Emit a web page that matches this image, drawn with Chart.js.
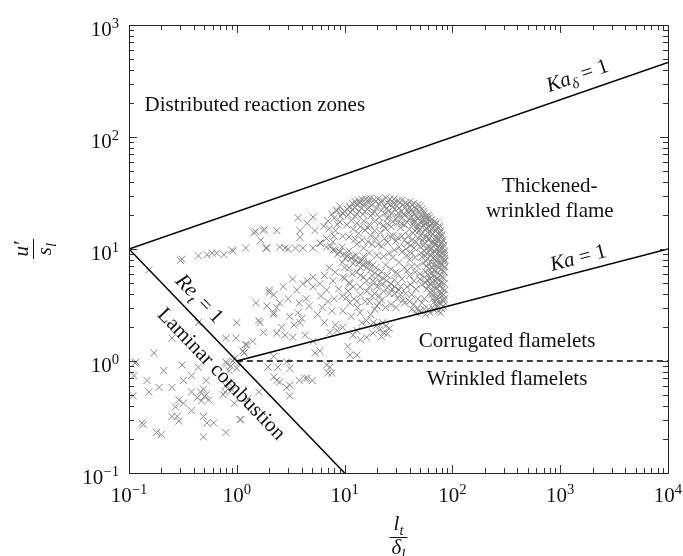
<!DOCTYPE html>
<html>
<head>
<meta charset="utf-8">
<script src="https://cdn.jsdelivr.net/npm/chart.js@4/dist/chart.umd.min.js"></script>
<style>
  body { margin: 0; background: #fff; }
  #wrap { width: 683px; height: 556px; position: relative; }
</style>
</head>
<body>
<div id="wrap"><canvas id="regime"></canvas></div>
<script>
// regime boundaries (l_t/delta_l, u'/s_l)
const kaDeltaLine = [[0.1, 10], [1e4, 464]];
const kaLine = [[1, 1], [1e4, 10]];
const reLine = [[0.1, 10], [10, 0.1]];
const wrinkledLine = [[1, 1], [1e4, 1]];

const xTickExps = [-1, 0, 1, 2, 3, 4];
const yTickExps = [-1, 0, 1, 2, 3];

const ptsLaminar = [
  [0.116,0.98],[0.111,0.74],[0.109,0.49],[0.147,0.67],[0.17,1.18],[0.21,0.82],[0.153,0.53],[0.19,0.58],
  [0.25,0.58],[0.31,0.92],[0.32,0.67],[0.38,0.74],[0.44,0.88],[0.52,0.67],[0.38,0.53],[0.46,0.53],
  [0.49,0.56],[0.43,0.47],[0.29,0.45],[0.27,0.39],[0.32,0.42],[0.38,0.36],[0.25,0.32],[0.28,0.32],
  [0.29,0.29],[0.49,0.32],[0.53,0.28],[0.61,0.28],[0.49,0.21],[0.79,0.23],[1.09,0.30],[0.132,0.28],
  [0.136,0.27],[0.18,0.23],[0.2,0.22],[0.79,0.60],[0.85,0.82],[0.79,0.98],[0.25,1.6],[0.44,2.2],
  [0.153,6.5],[0.5,0.48],[0.52,0.5],[0.55,0.45],[0.47,0.44],[0.75,0.5],[0.9,0.55],[0.95,0.42],
  [0.81,0.95],[0.92,1.0],[1.0,0.86],[0.86,0.63],[0.78,0.53],[1.14,1.23],[1.24,1.4],[0.95,1.05],
  [1.05,0.95],[0.88,0.9],[1.07,0.3],[1.27,0.46],[0.114,0.96]
];
const ptsTail = [
  [0.3,7.9],[0.31,8.1],[0.44,8.7],[0.53,8.9],[0.59,9.2],[0.65,9.2],[0.76,8.9],[0.9,9.8],[0.92,9.6],
  [1.21,10.2],[1.44,14],[1.5,14.3],[1.8,15],[1.67,12],[1.86,10.2],[1.76,14.6],[2.35,14.6],[1.9,10.2],
  [2.8,10.2],[3.7,19],[3.85,12.7],[3.5,10.2],[4.5,17],[5.3,14.6],[4.1,10.2],[5.1,10.2],[5.9,11.3],
  [6.8,10.4],[7.8,9.8],[9.0,9.5],[10.5,8.7],[12,8.5],[13.9,7.9],[16,7.5],[18.3,7.2],[3.85,14.6],
  [5.1,19.3],[8.5,22],[9.6,21],[11.2,23.5],[13.9,25.8],[17,27.3],[2.5,10.4],[3.0,10.0]
];
const ptsMid = [
  [1.0,2.2],[1.5,3.3],[0.79,1.6],[0.98,1.6],[1.2,1.4],[1.4,1.5],[1.17,1.18],[1.6,2.3],
  [2.0,4.1],[2.35,3.0],[2.2,2.6],[2.5,3.3],[1.9,3.1],[2.2,3.9],[2.2,2.7],[3.1,2.5],[3.7,2.7],[3.8,3.3],
  [4.7,3.1],[6.2,3.0],[7.6,2.8],[9.6,2.8],[11.2,3.3],[10.4,3.7],[13.9,2.7],[16,2.3],[19,2.9],
  [2.35,1.77],[2.8,1.7],[3.3,1.63],[4.3,1.7],[5.1,1.5],[7.3,1.8],[8.5,1.87],[9.6,2.0],[8.2,2.1],
  [13,1.87],[16,1.63],[18.3,1.77],[1.76,1.8],[1.64,2.2],[3.85,2.2],[4.1,4.9],[5.1,5.6],[5.9,4.9],
  [2.0,4.3],[3.6,4.3],[4.5,5.2],[6.8,4.3],[7.8,5.2],[8.2,6.2],[9.6,5.6],[11.2,4.9],[13.9,4.6],
  [18.3,5.2],[5.1,4.6],
  [2.2,1.1],[2.4,0.88],[2.9,0.98],[3.1,0.86],[5.3,1.18],[5.9,1.23],[6.8,0.92],[7.0,0.78],[10.7,1.35],
  [11.2,1.13],[13,1.13],[2.2,0.72],[2.5,0.65],[3.1,0.61],[4.3,0.7],[5.0,0.67],[1.94,0.88],[2.35,0.67],
  [2.9,0.58],[3.8,0.67],[4.5,0.7],[3.1,0.49],[1.6,0.53],[7.3,0.88],[7.6,0.78],
  [9.5,3.8],[10.8,4.2],[12.2,3.6],[11.5,2.5],[13.2,3.0],[14.5,2.2],[15.5,3.4],[17.5,2.6],[20,3.1],
  [12,1.7],[14,1.55],[21,1.9],[23,1.8],[25,1.75],[22,1.65],[24,2.05],[26,1.95],[22.5,2.2],[20,2.1],
  [2.6,2.0],[3.4,2.1],[4.0,2.4],[5.6,2.6],[6.5,2.2],[7.0,3.4],[8.0,3.6],[6.0,3.8],[4.4,3.6],[3.0,3.6],
  [2.7,4.6],[3.3,5.4],[6.5,5.8],[7.2,6.8],[8.8,4.4],[10,6.8],[11.8,6.0],[15.0,5.6],[17,4.6],[19,4.0],
  [21,3.8],[23,4.2],[18.5,2.2]
];
const ptsCluster = [
  // top of the arc
  [12.5,26.5],[14.5,27.8],[17.2,28.3],[20.4,28.0],[24.2,28.6],[28.7,27.9],[34.1,27.2],[40.5,26.4],[48.0,25.0],
  [13.5,27.0],[15.8,28.0],[18.8,27.6],[22.2,27.2],[26.4,28.0],[31.5,27.0],[37.0,26.0],[44.0,25.6],
  [11.8,25.6],[14.0,26.2],[16.5,26.0],[19.4,26.4],[22.0,26.2],[25.0,26.0],[28.5,25.6],[32.5,26.0],
  [38.0,25.2],[42.5,24.6],[50.0,24.0],
  [11.2,24.0],[13.0,24.8],[15.2,25.2],[17.8,24.6],[20.8,25.4],[23.5,24.2],[26.8,25.0],[30.5,24.4],
  [35.0,24.8],[40.0,23.6],[45.5,23.2],[52.0,22.8],
  [10.5,22.8],[12.4,23.4],[14.4,23.2],[17.0,23.6],[19.8,23.2],[24.6,23.0],[28.0,23.6],[32.0,23.2],
  [36.5,23.4],[41.5,22.4],[47.0,22.6],[54.0,21.8],
  [10.0,21.6],[11.8,22.4],[13.6,21.8],[16.2,22.6],[19.0,21.4],[22.0,22.2],[25.5,21.8],[29.0,22.6],
  [33.5,21.6],[38.0,22.0],[43.0,21.2],[49.0,21.6],[55.0,20.8],[60.0,20.0],
  [9.6,20.8],[11.4,21.2],[13.0,20.6],[15.4,21.4],[18.2,20.8],[23.5,20.6],[27.5,20.8],[31.5,21.0],
  [35.5,20.6],[39.5,21.0],[44.5,20.4],[51,20.2],[57,19.6],[62,19.2],
  [9.2,19.6],[10.8,20.2],[12.6,19.4],[14.8,20.4],[17.5,19.8],[21.0,19.2],[26.0,19.8],[31.0,19.4],
  [36.0,20.0],[41.0,19.2],[46.0,19.6],[52.0,18.8],[58.0,18.6],[64.0,18.2],
  [40,18.6],[44,18.2],[48,18.6],[54,17.8],[62,17.8],[68,17.6],[30,18.4],[34,18.8],[25,18.6],
  // right side of the arc
  [44,17.4],[51,17.6],[58,17.0],[65,16.8],[72,17.2],
  [48,16.6],[55,16.9],[62,16.4],[69,16.6],[76,16.2],
  [47,15.8],[54,16.2],[61,15.6],[68,16.0],[75,15.4],
  [50,15.0],[57,15.3],[64,14.9],[71,15.2],[78,14.6],
  [49,14.4],[56,14.8],[63,14.2],[70,14.6],[77,14.0],
  [52,13.7],[59,14.0],[66,13.6],[73,13.8],[80,13.4],
  [51,13.2],[58,12.8],[65,13.4],[72,12.6],[79,13.0],
  [54,12.4],[61,12.6],[68,12.2],[75,12.4],[82,12.0],
  [53,11.8],[60,12.2],[67,11.6],[74,12.0],[81,11.4],
  [56,11.2],[63,11.4],[70,10.9],[77,11.2],[83,10.8],
  [54,10.8],[61,10.4],[68,11.0],[75,10.6],[82,10.2],
  [57,10.1],[64,10.2],[71,9.9],[78,10.2],[84,9.6],
  [55,9.6],[62,9.9],[69,9.4],[76,9.8],[83,9.2],
  [58,9.1],[65,9.3],[72,9.0],[79,9.2],[85,8.8],
  [56,8.6],[63,8.9],[70,8.4],[77,8.8],[84,8.2],
  [59,8.2],[66,8.3],[73,8.1],[80,8.4],[85,7.9],
  [57,7.8],[64,7.5],[71,7.9],[78,7.4],[84,7.7],
  [60,7.4],[67,7.2],[74,7.5],[81,7.1],
  [58,7.0],[65,6.8],[72,7.1],[79,6.6],[85,6.9],
  [61,6.6],[68,6.5],[75,6.8],[82,6.4],
  [56,6.3],[63,6.0],[70,6.4],[77,5.9],[84,6.2],
  [59,5.9],[66,5.8],[73,6.1],[80,5.6],
  [55,5.6],[62,5.4],[69,5.7],[76,5.3],[83,5.5],
  [58,5.3],[65,5.1],[72,5.4],[79,5.0],
  [56,5.0],[63,4.8],[70,5.1],[77,4.7],[84,4.9],
  [60,4.7],[67,4.6],[74,4.8],[81,4.4],
  [58,4.4],[65,4.2],[72,4.5],[79,4.1],[85,4.3],
  [62,4.1],[69,4.0],[76,4.2],[83,3.9],
  [64,3.9],[71,3.7],[78,3.95],[84,3.6],
  [66,3.6],[73,3.55],[80,3.8],
  [68,3.4],[75,3.3],[81,3.5],
  [70,3.2],[77,3.25],[83,3.4],
  [72,3.05],[79,2.95],[82,3.1],
  [74,2.8],[78,2.7],
  [42,2.9],[46,2.7],[50,2.8],[55,2.9],[60,2.9],[65,3.0],[68,2.85],[56,2.6],[62,2.7],
  // inner arm
  [8.2,9.8],[9.0,9.4],[9.8,9.0],[10.6,8.6],[11.5,8.3],[12.5,7.9],[13.6,7.5],[14.8,7.2],[16.0,6.8],
  [17.4,6.5],[19.0,6.1],[20.6,5.8],[22.5,5.5],[24.5,5.2],[26.8,4.9],[29.2,4.6],[32.0,4.3],
  [9.5,10.4],[11.0,9.6],[12.8,8.8],[14.6,8.0],[16.8,7.5],[19.5,6.8],[22.0,6.3],[25.0,5.8],
  [8.6,9.0],[10.2,8.2],[12.0,7.4],[14.0,6.8],[18.0,5.8],[21.5,5.1],[27.5,4.4],
  // inner patches
  [21,17.0],[23,16.2],[25,16.8],[24,15.2],[27,15.8],
  [28,13.2],[31,12.6],[34,13.0],[30,11.8],[36,12.0],[38,11.2],
  [34,9.4],[38,8.8],[42,9.2],[45,8.4],[40,8.0],
  [29,4.0],[31,3.6],[33,3.9],[35,3.5],
  [10,5.5],[12,4.6],[14,5.8],[16,4.2],[18,3.8],[13,3.4],[20,4.6],[22,3.5],[24,3.0],[26,4.0],
  [40,5.8],[44,5.2],[38,4.6],[42,3.9],[46,4.4],[48,3.6],[50,6.0],[47,7.0],[52,8.5],[50,10.5],
  [46,11.5],[43,13.8],[47,15.2],[40,15.0],
  [9.0,17.5],[10.5,16.4],[12.0,15.0],[13.5,13.8],[15.5,14.8],[17.5,13.2],[19.5,12.4],[11,12.8],
  [8.2,14.6],[9.6,13.0],[18,11],[22,10.6],[25,11.4],[15,10.2],[13,11.0],
  [7.6,20.5],[8.4,22.0],[9.0,24.2],[7.0,17.8],[6.4,16.0],[7.2,15.2],[8.0,13.0],[6.8,12.4],[6.0,11.2],[7.4,10.6],
  [36,6.8],[32,7.6],[28,8.4],[30,6.2],[34,5.4],
  [11.5,18.0],[13.0,17.0],[15.0,17.8],[17.0,16.6],[19.0,17.6],[14.0,15.8],[16.5,15.4],[19.0,14.6],
  [21.5,14.0],[12.5,12.2],[14.5,12.0],[16.5,11.6],[20.5,11.0],[23.5,12.4],[26.5,13.0],[33,15.5],
  [36,16.4],[39,13.2],[42,12.0],[44,10.2],[41,10.8],[37,10.0],[32,10.4],[29,9.8],[26,9.2],[23,8.6],
  [20,8.8],[17,9.2],[15,8.6],[24,7.2],[27,6.6],[31,6.0],[38,6.4],[42,7.0],[45,6.2],[41,4.8],[37,4.0],
  [33,4.6],[29,5.3],[25,4.5],[22,4.8],[19,5.0],[16,5.2],[13,6.2],[11,6.8],[9.5,7.6],[11,5.0],[14,3.9],
  [17,3.4],[21,3.3],[27,3.2],[30,3.0],[36,3.3],[40,3.4],[44,3.2],[47,2.9],[52,3.3],[55,3.6],[52,4.8],
  [50,5.4],[53,7.5],[51,9.2],[48,12.6],[45,14.5],[43,16.5],[38,17.4],[34,16.8],[31,17.2],[28,17.6],
  [8.6,16.6],[8.0,18.8],[7.8,11.6]
];

const FONT = '"Liberation Serif", "DejaVu Serif", serif';
const LABEL_SIZE = 21;

function toXY(list) {
  return list.map(p => ({ x: p[0], y: p[1] }));
}

function lineSet(list, dash) {
  return {
    type: 'line',
    data: toXY(list),
    borderColor: '#000',
    borderWidth: 1.5,
    borderDash: dash || [],
    pointRadius: 0,
    fill: false
  };
}

function fontFor(run, size) {
  const s = run.sub || run.sup ? size * 0.7 : size;
  return (run.it ? 'italic ' : '') + s.toFixed(1) + 'px ' + FONT;
}

// draw a row of text runs (with sub/superscripts), centred on (cx, cy)
function drawRuns(ctx, runs, cx, cy, angle, size, align) {
  ctx.save();
  ctx.translate(cx, cy);
  ctx.rotate(angle || 0);
  let w = 0;
  runs.forEach(r => {
    ctx.font = fontFor(r, size);
    r.w = ctx.measureText(r.t).width;
    w += r.w;
  });
  let xx = align === 'right' ? -w : -w / 2;
  ctx.textBaseline = 'alphabetic';
  ctx.fillStyle = '#111';
  runs.forEach(r => {
    ctx.font = fontFor(r, size);
    let dy = size * 0.33;
    if (r.sub) dy += size * 0.25;
    if (r.sup) dy -= size * 0.38;
    ctx.fillText(r.t, xx, dy);
    xx += r.w;
  });
  ctx.restore();
}

function powLabel(e) {
  return [{ t: '10' }, { t: e < 0 ? '\u2212' + (-e) : String(e), sup: true }];
}

function lineAngle(x, y, list) {
  const x0 = x.getPixelForValue(list[0][0]), y0 = y.getPixelForValue(list[0][1]);
  const x1 = x.getPixelForValue(list[1][0]), y1 = y.getPixelForValue(list[1][1]);
  return Math.atan2(y1 - y0, x1 - x0);
}

const decorations = {
  id: 'decorations',
  afterDraw(chart) {
    const { ctx, chartArea: a, scales: { x, y } } = chart;
    ctx.save();

    // ticks on all four sides, pointing inwards
    ctx.strokeStyle = '#333';
    ctx.lineWidth = 1;
    ctx.beginPath();
    for (let e = xTickExps[0]; e < xTickExps[xTickExps.length - 1] + 1; e++) {
      for (let m = 1; m <= 9; m++) {
        const v = m * Math.pow(10, e);
        if (v > 1e4 * 1.0001) break;
        const px = Math.round(x.getPixelForValue(v)) + 0.5;
        const len = m === 1 ? 8 : 5;
        ctx.moveTo(px, a.bottom); ctx.lineTo(px, a.bottom - len);
        ctx.moveTo(px, a.top); ctx.lineTo(px, a.top + len);
      }
    }
    for (let e = yTickExps[0]; e < yTickExps[yTickExps.length - 1] + 1; e++) {
      for (let m = 1; m <= 9; m++) {
        const v = m * Math.pow(10, e);
        if (v > 1e3 * 1.0001) break;
        const py = Math.round(y.getPixelForValue(v)) + 0.5;
        const len = m === 1 ? 8 : 5;
        ctx.moveTo(a.left, py); ctx.lineTo(a.left + len, py);
        ctx.moveTo(a.right, py); ctx.lineTo(a.right - len, py);
      }
    }
    ctx.stroke();

    // frame
    ctx.strokeStyle = '#222';
    ctx.strokeRect(Math.round(a.left) + 0.5, Math.round(a.top) + 0.5,
      Math.round(a.right - a.left), Math.round(a.bottom - a.top));

    // tick labels
    xTickExps.forEach(e => {
      drawRuns(ctx, powLabel(e), x.getPixelForValue(Math.pow(10, e)), a.bottom + 22, 0, LABEL_SIZE);
    });
    yTickExps.forEach(e => {
      drawRuns(ctx, powLabel(e), a.left - 10, y.getPixelForValue(Math.pow(10, e)) + 4, 0, LABEL_SIZE, 'right');
    });

    // axis titles as fractions
    const midX = (a.left + a.right) / 2;
    ctx.fillStyle = '#111';
    ctx.fillRect(midX - 9, 537, 18, 1);
    drawRuns(ctx, [{ t: 'l', it: true }, { t: 't', it: true, sub: true }], midX, 523, 0, LABEL_SIZE);
    drawRuns(ctx, [{ t: '\u03b4', it: true }, { t: 'l', it: true, sub: true }], midX, 547, 0, LABEL_SIZE);

    const midY = (a.top + a.bottom) / 2;
    ctx.fillRect(33, midY - 10, 1, 20);
    drawRuns(ctx, [{ t: 'u\u2032', it: true }], 21, midY, -Math.PI / 2, LABEL_SIZE);
    drawRuns(ctx, [{ t: 's', it: true }, { t: 'l', it: true, sub: true }], 44, midY, -Math.PI / 2, LABEL_SIZE);

    // regime names
    const at = (vx, vy) => [x.getPixelForValue(vx), y.getPixelForValue(vy)];
    let p = at(1.47, 197);
    drawRuns(ctx, [{ t: 'Distributed reaction zones' }], p[0], p[1], 0, LABEL_SIZE);
    p = at(800, 37.2);
    drawRuns(ctx, [{ t: 'Thickened-' }], p[0], p[1], 0, LABEL_SIZE);
    p = at(800, 22.2);
    drawRuns(ctx, [{ t: 'wrinkled flame' }], p[0], p[1], 0, LABEL_SIZE);
    p = at(321, 1.53);
    drawRuns(ctx, [{ t: 'Corrugated flamelets' }], p[0], p[1], 0, LABEL_SIZE);
    p = at(321, 0.70);
    drawRuns(ctx, [{ t: 'Wrinkled flamelets' }], p[0], p[1], 0, LABEL_SIZE);

    // boundary names, rotated along their lines
    p = at(1432, 357);
    drawRuns(ctx, [{ t: 'Ka', it: true }, { t: '\u03b4', it: true, sub: true }, { t: ' = 1' }],
      p[0], p[1], lineAngle(x, y, kaDeltaLine), LABEL_SIZE);
    p = at(1462, 8.45);
    drawRuns(ctx, [{ t: 'Ka', it: true }, { t: ' = 1' }], p[0], p[1], lineAngle(x, y, kaLine), LABEL_SIZE);
    p = at(0.456, 3.63);
    drawRuns(ctx, [{ t: 'Re', it: true }, { t: 't', it: true, sub: true }, { t: ' = 1' }],
      p[0], p[1], lineAngle(x, y, reLine), LABEL_SIZE);
    p = at(0.73, 0.776);
    drawRuns(ctx, [{ t: 'Laminar combustion' }], p[0], p[1], lineAngle(x, y, reLine), LABEL_SIZE);

    ctx.restore();
  }
};

const allPoints = ptsLaminar.concat(ptsTail, ptsMid, ptsCluster);

new Chart(document.getElementById('regime'), {
  type: 'scatter',
  data: {
    datasets: [
      lineSet(kaDeltaLine),
      lineSet(kaLine),
      lineSet(reLine),
      lineSet(wrinkledLine, [6, 4]),
      {
        type: 'scatter',
        data: toXY(allPoints),
        pointStyle: 'crossRot',
        pointRadius: 5,
        borderColor: '#888888',
        borderWidth: 1,
        backgroundColor: '#888888'
      }
    ]
  },
  options: {
    responsive: true,
    maintainAspectRatio: false,
    animation: false,
    layout: { padding: { left: 129, right: 15, top: 25, bottom: 83 } },
    plugins: { legend: { display: false }, tooltip: { enabled: false } },
    scales: {
      x: { type: 'logarithmic', min: 0.1, max: 1e4, display: false },
      y: { type: 'logarithmic', min: 0.1, max: 1e3, display: false }
    }
  },
  plugins: [decorations]
});
</script>
</body>
</html>
